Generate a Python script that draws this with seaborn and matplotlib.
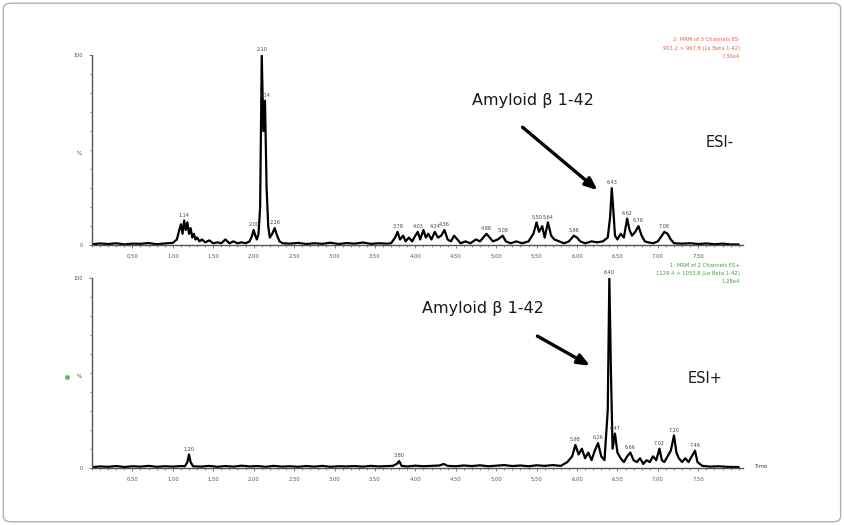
import numpy as np
import pandas as pd
import matplotlib
matplotlib.use("Agg")
import matplotlib.pyplot as plt
from matplotlib.patches import FancyBboxPatch
import seaborn as sns

# ESI- trace (time, % intensity)
esi_neg_time = [0.00, 0.10, 0.20, 0.30, 0.40, 0.50, 0.60, 0.70, 0.80, 0.90, 1.00,
                1.05, 1.08, 1.10, 1.12, 1.14, 1.16, 1.18, 1.20, 1.22, 1.24, 1.26, 1.28, 1.30, 1.33, 1.36,
                1.40, 1.45, 1.50, 1.55, 1.60, 1.65, 1.70, 1.75, 1.80, 1.85, 1.90, 1.95,
                1.98, 2.00, 2.02, 2.04, 2.06, 2.08, 2.10, 2.12, 2.14, 2.16, 2.18, 2.20, 2.23, 2.26, 2.29, 2.32, 2.36,
                2.45, 2.55, 2.65, 2.75, 2.85, 2.95, 3.05, 3.15, 3.25, 3.35, 3.45, 3.55, 3.65,
                3.70, 3.75, 3.78, 3.81, 3.85, 3.88, 3.92, 3.96, 4.00, 4.03, 4.06, 4.10, 4.13, 4.16, 4.20,
                4.24, 4.28, 4.32, 4.36, 4.40, 4.44, 4.48, 4.52, 4.56, 4.62, 4.68, 4.75, 4.80, 4.88, 4.92,
                4.96, 5.02, 5.08, 5.12, 5.18, 5.25, 5.32, 5.40, 5.46, 5.50, 5.53, 5.57, 5.60, 5.64, 5.68,
                5.72, 5.78, 5.84, 5.90, 5.96, 6.00, 6.04, 6.10, 6.18, 6.25, 6.32, 6.38, 6.41, 6.43, 6.45,
                6.47, 6.50, 6.54, 6.58, 6.62, 6.65, 6.68, 6.72, 6.76, 6.80, 6.84, 6.88, 6.94, 7.00, 7.05,
                7.08, 7.12, 7.16, 7.20, 7.30, 7.40, 7.50, 7.60, 7.70, 7.80, 7.90, 8.00]
esi_neg_int = [0.5, 0.9, 0.6, 1.0, 0.4, 0.8, 0.7, 1.1, 0.5, 0.9, 1.2,
               3, 8, 11, 6, 13, 8, 12, 6, 9, 4, 6, 3, 4, 2, 3,
               1.5, 2.5, 1, 1.5, 1, 3, 1, 2, 1, 1.5, 1, 2,
               5, 8, 5, 3, 6, 20, 100, 60, 76, 30, 10, 4, 6, 9, 5, 2, 1,
               0.8, 1.2, 0.6, 1.0, 0.7, 1.3, 0.6, 1.1, 0.8, 1.4, 0.7, 1.0, 0.8,
               1, 4, 7, 3, 5, 2, 4, 2, 5, 7, 3, 8, 4, 6, 3,
               7, 4, 5, 8, 3, 2, 5, 3, 1, 2, 1, 3, 2, 6, 4,
               2, 3, 5, 2, 1, 2, 1, 2, 6, 12, 7, 10, 4, 12, 5,
               3, 2, 1, 2, 5, 4, 2, 1, 2, 1.5, 2, 4, 15, 30, 18,
               5, 3, 6, 4, 14, 8, 5, 7, 10, 5, 2, 1.5, 1, 2, 5,
               7, 6, 3, 1, 0.8, 1.0, 0.6, 0.9, 0.5, 0.8, 0.4, 0.4]
esi_neg_labels = [1.14, 2.00, 2.10, 2.14, 2.26, 3.78, 4.03, 4.24, 4.36,
                  4.88, 5.08, 5.50, 5.64, 5.96, 6.43, 6.62, 6.76, 7.08]

# ESI+ trace
esi_pos_time = [0.00, 0.10, 0.20, 0.30, 0.40, 0.50, 0.60, 0.70, 0.80, 0.90, 1.00, 1.10,
                1.15, 1.18, 1.20, 1.22, 1.25, 1.35, 1.45, 1.55, 1.65, 1.75, 1.85, 1.95,
                2.05, 2.15, 2.25, 2.35, 2.45, 2.55, 2.65, 2.75, 2.85, 2.95, 3.05, 3.15,
                3.25, 3.35, 3.45, 3.55, 3.65, 3.72, 3.77, 3.80, 3.83, 3.90, 4.00, 4.10,
                4.20, 4.30, 4.35, 4.40, 4.50, 4.60, 4.70, 4.80, 4.90, 5.00, 5.10, 5.20,
                5.30, 5.40, 5.50, 5.60, 5.70, 5.80, 5.88, 5.94, 5.98, 6.02, 6.06, 6.10,
                6.14, 6.18, 6.22, 6.26, 6.30, 6.34, 6.38, 6.40, 6.42, 6.44, 6.47, 6.50,
                6.54, 6.58, 6.62, 6.66, 6.70, 6.74, 6.78, 6.82, 6.86, 6.90, 6.94, 6.98,
                7.02, 7.05, 7.08, 7.12, 7.16, 7.20, 7.23, 7.26, 7.30, 7.34, 7.38, 7.42,
                7.46, 7.49, 7.55, 7.65, 7.75, 7.85, 7.95, 8.00]
esi_pos_int = [0.3, 0.7, 0.5, 0.9, 0.4, 0.8, 0.6, 1.0, 0.5, 0.8, 0.6, 0.9,
               0.8, 3, 7, 3, 0.8, 0.6, 1.0, 0.5, 0.9, 0.6, 1.1, 0.7,
               0.9, 0.5, 1.0, 0.6, 0.8, 0.5, 0.9, 0.6, 1.0, 0.5, 0.8, 0.7,
               0.9, 0.6, 1.0, 0.7, 0.9, 1.0, 2, 3.5, 1, 0.7, 1.1, 0.8,
               1.0, 1.2, 2, 1.0, 0.8, 1.2, 0.9, 1.3, 0.8, 1.1, 1.4, 0.9,
               1.2, 0.8, 1.3, 1.0, 1.4, 1.0, 3, 6, 12, 7, 10, 5,
               8, 4, 9, 13, 6, 4, 30, 100, 50, 10, 18, 8,
               5, 3, 6, 8, 4, 3, 5, 2, 4, 3, 6, 4,
               10, 4, 3, 6, 9, 17, 8, 5, 3, 5, 3, 6,
               9, 3, 1, 0.6, 0.8, 0.5, 0.4, 0.4]
esi_pos_labels = [1.20, 3.80, 5.98, 6.26, 6.40, 6.47, 6.66, 7.02, 7.20, 7.46]

tick_times = [0.50, 1.00, 1.50, 2.00, 2.50, 3.00, 3.50, 4.00, 4.50, 5.00, 5.50, 6.00, 6.50, 7.00, 7.50]

neg_header = ["2: MRM of 3 Channels ES-", "901.2 > 967.8 (Le Beta 1-42)", "7.30e4"]
pos_header = ["1: MRM of 2 Channels ES+", "1129.4 > 1053.8 (Le Beta 1-42)", "1.28e4"]

sns.set_theme(style="ticks")
plt.rcParams['font.family'] = ['DejaVu Sans']

fig = plt.figure(figsize=(8.44, 5.25), dpi=100)
fig.patch.set_facecolor("white")
fig.patches.append(FancyBboxPatch((0.004, 0.006), 0.992, 0.988, boxstyle="round,pad=0,rounding_size=0.01",
                                  transform=fig.transFigure, fill=False, edgecolor="#b0b0b0", linewidth=1.0))

ax_top = fig.add_axes([0.109, 0.533, 0.771, 0.362])
ax_bot = fig.add_axes([0.109, 0.109, 0.771, 0.362])

panels = [
    (ax_top, esi_neg_time, esi_neg_int, esi_neg_labels),
    (ax_bot, esi_pos_time, esi_pos_int, esi_pos_labels),
]
for ax, t, y, labs in panels:
    df = pd.DataFrame({"time": t, "intensity": y})
    sns.lineplot(data=df, x="time", y="intensity", ax=ax, color="black", linewidth=1.6,
                 estimator=None, sort=True)
    look = dict(zip(t, y))
    for lt in labs:
        ax.text(lt, look[lt] + 1.5, f"{lt:.2f}", fontsize=3.5, color="#444444",
                ha="center", va="bottom")
    ax.set_xlim(0, 8.05)
    ax.set_ylim(0, 100)
    ax.set_facecolor("white")
    ax.set_xlabel("")
    ax.set_ylabel("")
    ax.spines["top"].set_visible(False)
    ax.spines["right"].set_visible(False)
    for s in ["left", "bottom"]:
        ax.spines[s].set_color("#555555")
        ax.spines[s].set_linewidth(1.0)
    ax.set_xticks(tick_times)
    ax.set_xticklabels([f"{v:.2f}" for v in tick_times], fontsize=3.8, color="#555555")
    ax.set_xticks(np.arange(0, 8.01, 0.1), minor=True)
    ax.set_yticks([0, 100])
    ax.set_yticklabels(["0", "100"], fontsize=3.5, color="#555555")
    ax.set_yticks(np.arange(0, 101, 10), minor=True)
    ax.tick_params(axis="both", which="major", length=2.5, width=0.6, color="#666666", pad=4)
    ax.tick_params(axis="both", which="minor", length=1.5, width=0.5, color="#666666")
    ax.text(-0.12, 48, "%", fontsize=4, color="#444444", ha="right", va="center")

# annotations top
ax_top.text(5.46, 76, "Amyloid β 1-42", fontsize=11.5, color="#1a1a1a", ha="center", va="center")
ax_top.annotate("", xy=(6.28, 28), xytext=(5.30, 63),
                arrowprops=dict(arrowstyle="-|>,head_length=0.6,head_width=0.25", color="black", lw=2.4))
ax_top.text(7.77, 54, "ESI-", fontsize=10.5, color="#1a1a1a", ha="center", va="center")

# annotations bottom
ax_bot.text(4.84, 84, "Amyloid β 1-42", fontsize=11.5, color="#1a1a1a", ha="center", va="center")
ax_bot.annotate("", xy=(6.19, 53), xytext=(5.48, 70),
                arrowprops=dict(arrowstyle="-|>,head_length=0.6,head_width=0.25", color="black", lw=2.4))
ax_bot.text(7.58, 47, "ESI+", fontsize=10.5, color="#1a1a1a", ha="center", va="center")

for i, line in enumerate(neg_header):
    fig.text(0.877, 0.924 - i * 0.016, line, fontsize=3.8, color="#f06040", ha="right", va="center")
for i, line in enumerate(pos_header):
    fig.text(0.877, 0.495 - i * 0.016, line, fontsize=3.8, color="#4a9a4a", ha="right", va="center")

fig.text(0.895, 0.112, "Time", fontsize=3.8, color="#444444", ha="left", va="center")
fig.lines.append(plt.Line2D([0.079], [0.282], marker="o", markersize=2.5, color="#5cc05c",
                            transform=fig.transFigure))

fig.savefig("out.png", dpi=100, facecolor="white")
